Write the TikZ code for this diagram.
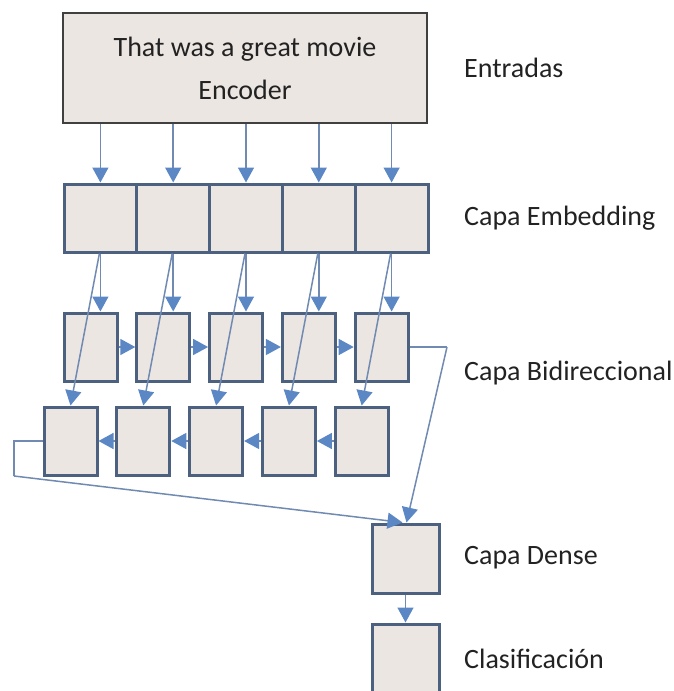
\documentclass[tikz,border=0pt]{standalone}
\usepackage{fontspec}
\setmainfont{Carlito}
\usetikzlibrary{arrows.meta, positioning, calc}

\definecolor{cellfill}{RGB}{236,230,227}
\definecolor{cellline}{RGB}{76,97,128}
\definecolor{linkline}{RGB}{112,138,178}
\definecolor{tipfill}{RGB}{91,135,197}
\definecolor{textgray}{RGB}{34,34,34}

\begin{document}
\begin{tikzpicture}[x=1pt, y=-1pt,
        every node/.style={text=textgray},
        inbox/.style={draw=black!75, fill=cellfill, line width=2pt, minimum width=364pt, minimum height=110pt, align=center, font=\fontsize{28}{43}\selectfont},
        embcell/.style={draw=cellline, fill=cellfill, line width=3pt, minimum width=72.8pt, minimum height=68pt, inner sep=0pt},
        rnncell/.style={draw=cellline, fill=cellfill, line width=3pt, minimum width=53pt, minimum height=68pt, inner sep=0pt},
        outcell/.style={draw=cellline, fill=cellfill, line width=3pt, minimum width=67pt, inner sep=0pt},
        layer/.style={anchor=base west, font=\fontsize{28}{34}\selectfont, inner sep=0pt},
        link/.style={draw=linkline, line width=1.5pt, -{Triangle[width=16pt, length=15pt, color=tipfill]}},
        wire/.style={draw=linkline, line width=1.5pt},
      ]
        \useasboundingbox (0,0) rectangle (673,691);

        % Input sentence
        \node[inbox] (input) at (245,68) {That was a great movie\\Encoder};

        % Embedding layer
        \foreach \i in {0,...,4} {
          \node[embcell] (emb\i) at (100.4+72.8*\i, 218) {};
        }

        % Bidirectional layer: forward row and backward row
        \foreach \i in {0,...,4} {
          \node[rnncell] (fwd\i) at (90.5+72.8*\i, 347) {};
          \node[rnncell] (bwd\i) at (70.5+72.8*\i, 441) {};
        }

        % Dense and output
        \node[outcell, minimum height=69pt] (dense) at (405.5,558.5) {};
        \node[outcell, minimum height=80pt] (clsf) at (405.5,664) {};

        % Layer names
        \node[layer] (lblin) at (464,77) {Entradas};
        \node[layer] (lblemb) at (464,225) {Capa Embedding};
        \node[layer] (lblbi) at (464,380) {Capa Bidireccional};
        \node[layer] (lbldense) at (464,564) {Capa Dense};
        \node[layer] (lblclsf) at (464,668) {Clasificación};

        % Input to embedding
        \foreach \i in {0,...,4} {
          \draw[link] (input.south -| emb\i) -- (emb\i.north);
        }

        % Embedding to both directions
        \foreach \i in {0,...,4} {
          \draw[link] (emb\i.south) -- (emb\i.south |- fwd\i.north);
          \draw[link] ([xshift=-1pt]emb\i.south) -- (bwd\i.north);
        }

        % Recurrent links
        \foreach \i/\j in {0/1, 1/2, 2/3, 3/4} {
          \draw[link] (fwd\i.east) -- (fwd\j.west);
          \draw[link] (bwd\j.west) -- (bwd\i.east);
        }

        % Last states go to the dense layer
        \coordinate (fwdturn) at (447,347);
        \coordinate (bwdturn) at (14,441);
        \coordinate (bwdlow) at (14,476);
        \draw[wire] (fwd4.east) -- (fwdturn);
        \draw[link] (fwdturn) -- ([xshift=1pt]dense.north);
        \draw[wire] (bwd0.west) -- (bwdturn) -- (bwdlow);
        \draw[link] (bwdlow) -- ([xshift=-3pt]dense.north);

        \draw[link] (dense.south) -- (clsf.north);
      \end{tikzpicture}
\end{document}
